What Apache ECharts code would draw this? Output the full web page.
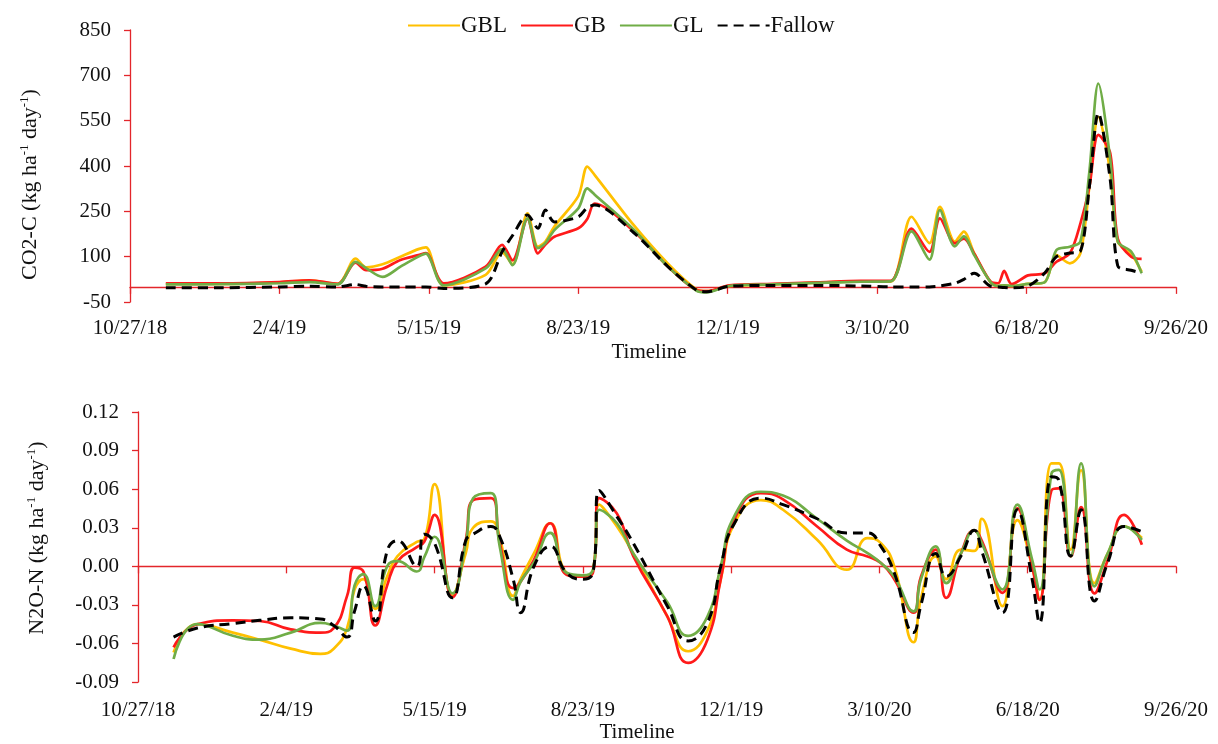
<!DOCTYPE html>
<html>
<head>
<meta charset="utf-8">
<script src="https://cdn.jsdelivr.net/npm/echarts@6/dist/echarts.min.js"></script>
<style>
  html, body { margin: 0; padding: 0; background: #fff; }
  #chart { width: 1218px; height: 744px; }
</style>
</head>
<body>
<div id="chart"></div>
<script>
// ---- CO2-C flux (kg ha-1 day-1) ----
const co2Dates = [
  '2018-11-20','2018-12-26','2019-02-04','2019-02-24','2019-03-15','2019-03-27','2019-04-03',
  '2019-04-14','2019-04-26','2019-05-08','2019-05-13','2019-05-25','2019-06-22','2019-07-03',
  '2019-07-10','2019-07-20','2019-07-27','2019-08-01','2019-08-07','2019-08-23','2019-08-29',
  '2019-09-03','2019-09-29','2019-10-22','2019-11-10','2019-11-17','2019-12-02','2019-12-31',
  '2020-01-30','2020-02-28','2020-03-19','2020-04-02','2020-04-14','2020-04-21','2020-05-01',
  '2020-05-07','2020-05-14','2020-05-25','2020-05-30','2020-06-03','2020-06-08','2020-06-19',
  '2020-06-30','2020-07-08','2020-07-17','2020-07-24','2020-07-30','2020-08-05','2020-08-13',
  '2020-08-18','2020-08-27','2020-09-03'
];
const co2GBL = [10,10,15,22,10,94,65,75,100,125,131,5,40,115,75,243,133,150,200,300,398,370,205,77,-8,-14,3,8,14,18,17,232,145,265,150,183,110,15,3,5,3,10,15,105,78,111,330,563,380,150,110,50];
const co2GB  = [12,12,16,22,10,80,55,60,89,105,112,12,67,139,88,225,111,140,166,194,225,276,185,67,-10,-14,5,10,15,20,20,193,116,227,144,160,110,17,12,53,9,38,45,83,111,209,330,503,442,160,100,93];
const co2GL  = [8,9,12,16,8,83,62,33,67,100,110,5,61,125,72,227,128,145,188,260,326,305,190,67,-12,-18,3,8,13,17,18,184,90,254,134,167,105,15,3,5,3,10,15,122,133,150,380,673,420,150,117,45];
const co2F   = [-3,-3,0,2,0,8,2,0,0,0,0,-5,10,116,170,238,194,254,215,232,262,271,180,67,-10,-16,2,5,5,3,0,0,0,3,12,25,45,2,0,-2,-3,3,45,100,112,118,330,575,354,70,55,45];

// ---- N2O-N flux (kg ha-1 day-1) ----
const n2oDates = [
  '2018-11-20','2018-12-06','2018-12-30','2019-01-17','2019-02-07','2019-02-27','2019-03-08',
  '2019-03-17','2019-03-22','2019-03-28','2019-04-05','2019-04-13','2019-04-20','2019-05-03',
  '2019-05-08','2019-05-15','2019-05-27','2019-06-05','2019-06-10','2019-06-22','2019-06-28',
  '2019-07-07','2019-07-12','2019-07-21','2019-08-01','2019-08-12','2019-08-23','2019-08-30',
  '2019-09-03','2019-09-15','2019-09-26','2019-10-19','2019-11-02','2019-11-15','2019-11-24',
  '2019-12-03','2019-12-21','2020-01-05','2020-01-28','2020-02-17','2020-03-02','2020-03-11',
  '2020-03-20','2020-04-02','2020-04-07','2020-04-17','2020-04-24','2020-05-04','2020-05-13',
  '2020-05-18','2020-06-01','2020-06-11','2020-06-21','2020-06-26','2020-07-04','2020-07-09',
  '2020-07-17','2020-07-24','2020-08-02','2020-08-11','2020-08-22','2020-09-03'
];
const n2oGBL = [-0.067,-0.045,-0.0515,-0.057,-0.064,-0.068,-0.064,-0.048,-0.018,-0.010,-0.033,-0.008,0.008,0.019,0.021,0.064,-0.023,0.010,0.030,0.035,0.022,-0.023,-0.010,0.010,0.0335,-0.005,-0.008,-0.002,0.048,0.031,0.010,-0.039,-0.066,-0.050,-0.010,0.033,0.0515,0.044,0.0206,-0.0026,0.022,0.018,0.000,-0.059,-0.025,0.0077,-0.010,0.013,0.012,0.037,-0.031,0.036,0.000,-0.026,0.080,0.080,0.013,0.0747,-0.013,0.010,0.031,0.022];
const n2oGB  = [-0.063,-0.045,-0.042,-0.0425,-0.049,-0.0515,-0.048,-0.023,-0.001,-0.004,-0.046,-0.015,0.004,0.015,0.019,0.040,-0.024,0.020,0.0515,0.053,0.018,-0.017,-0.012,0.005,0.0335,-0.0065,-0.008,-0.004,0.053,0.041,0.008,-0.039,-0.075,-0.057,-0.010,0.036,0.057,0.052,0.031,0.013,0.0077,0.0026,-0.010,-0.036,-0.008,0.013,-0.0245,0.010,0.028,0.020,-0.0206,0.045,0.000,-0.026,0.059,0.0606,0.0077,0.046,-0.021,0.005,0.040,0.0168];
const n2oGL  = [-0.072,-0.045,-0.054,-0.057,-0.0515,-0.044,-0.046,-0.050,-0.015,-0.006,-0.031,0.000,0.004,-0.004,0.007,0.023,-0.021,0.018,0.053,0.057,0.015,-0.026,-0.012,0.003,0.026,-0.005,-0.007,-0.002,0.044,0.0335,0.010,-0.028,-0.054,-0.039,0.000,0.0387,0.058,0.055,0.037,0.020,0.0103,0.0026,-0.008,-0.035,-0.010,0.0155,-0.013,0.010,0.028,0.018,-0.018,0.048,0.005,-0.018,0.072,0.075,0.0077,0.080,-0.0155,0.0103,0.031,0.0206];
const n2oF   = [-0.055,-0.048,-0.0445,-0.042,-0.040,-0.041,-0.046,-0.055,-0.035,-0.015,-0.0425,0.012,0.020,0.000,0.025,0.018,-0.0245,0.020,0.025,0.031,0.023,-0.010,-0.036,0.000,0.0155,-0.005,-0.010,-0.004,0.059,0.0387,0.018,-0.031,-0.058,-0.044,0.000,0.033,0.053,0.048,0.037,0.026,0.026,0.0155,-0.005,-0.0515,-0.030,0.010,-0.0077,0.008,0.028,0.012,-0.036,0.044,-0.010,-0.044,0.0696,0.067,0.008,0.044,-0.027,0.003,0.031,0.027];

const seriesNames = ['GBL', 'GB', 'GL', 'Fallow'];
const xTickStart = '2018-10-27';
const xTickEnd = '2020-09-26';

const FONT = "'Liberation Serif', 'Times New Roman', serif";
const AXIS_RED = '#e3262b';
const COLORS = { GBL: '#ffc000', GB: '#ff1a1a', GL: '#70ad47', Fallow: '#000000' };

// Spreadsheet-style day serial so ticks fall every 100 days from the start date
function toSerial(iso) {
  const [y, m, d] = iso.split('-').map(Number);
  return Date.UTC(y, m - 1, d) / 864e5 + 25569;
}
function serialLabel(v) {
  const dt = new Date((v - 25569) * 864e5);
  return (dt.getUTCMonth() + 1) + '/' + dt.getUTCDate() + '/' + String(dt.getUTCFullYear()).slice(2);
}
const xMin = toSerial(xTickStart);
const xMax = toSerial(xTickEnd);

function pairs(dates, vals) {
  return dates.map((d, i) => [toSerial(d), vals[i]]);
}

const chart = echarts.init(document.getElementById('chart'), null, { renderer: 'canvas' });

const grids = [
  { left: 130, top: 30, width: 1046, height: 272 },
  { left: 138, top: 412, width: 1038, height: 271 }
];

function labelAxis(gi, gap, margin, pad) {
  return {
    gridIndex: gi, type: 'value', position: 'bottom', min: xMin, max: xMax, interval: 100,
    axisLine: { show: false, onZero: false }, axisTick: { show: false }, splitLine: { show: false },
    axisLabel: { formatter: serialLabel, fontFamily: FONT, fontSize: 21, color: '#111', margin: margin,
                 showMinLabel: true, showMaxLabel: true },
    name: 'Timeline', nameLocation: 'middle', nameGap: gap,
    nameTextStyle: { fontFamily: FONT, fontSize: 21, color: '#111', padding: pad }
  };
}
function zeroAxis(gi) {
  return {
    gridIndex: gi, type: 'value', position: 'top', min: xMin, max: xMax, interval: 100,
    axisLine: { show: true, onZero: true, lineStyle: { color: AXIS_RED, width: 1.3 } },
    axisTick: { show: true, inside: true, length: 7, lineStyle: { color: AXIS_RED, width: 1.3 } },
    axisLabel: { show: false }, splitLine: { show: false }
  };
}
function yAxisCfg(gi, min, max, step, title, digits, gap, pad) {
  return {
    gridIndex: gi, type: 'value', min: min, max: max, interval: step,
    axisLine: { show: true, onZero: false, lineStyle: { color: AXIS_RED, width: 1.3 } },
    axisTick: { show: true, length: 6, lineStyle: { color: AXIS_RED, width: 1.3 } },
    splitLine: { show: false },
    axisLabel: {
      fontFamily: FONT, fontSize: 21, color: '#111', margin: 19,
      formatter: v => digits ? (Math.abs(v) < 1e-9 ? '0.00' : v.toFixed(digits)) : String(Math.round(v))
    },
    name: '{a|' + title + ' (kg ha}{s|-1}{a| day}{s|-1}{a|)}',
    nameLocation: 'middle', nameGap: gap,
    nameTextStyle: {
      padding: pad,
      rich: {
        a: { fontFamily: FONT, fontSize: 22, color: '#111', lineHeight: 24 },
        s: { fontFamily: FONT, fontSize: 13, color: '#111', verticalAlign: 'top', lineHeight: 24, padding: [0, 0, 10, 0] }
      }
    }
  };
}

function lineSeries(name, data, xi, yi, smooth) {
  const dashed = name === 'Fallow';
  return {
    name: name, type: 'line', xAxisIndex: xi, yAxisIndex: yi, data: data,
    smooth: smooth, symbol: 'none', showSymbol: false, z: dashed ? 5 : 3,
    lineStyle: { color: COLORS[name], width: dashed ? 3 : 2.7, type: dashed ? [10, 6] : 'solid' },
    itemStyle: { color: COLORS[name] }
  };
}

const co2Vals = [co2GBL, co2GB, co2GL, co2F];
const n2oVals = [n2oGBL, n2oGB, n2oGL, n2oF];
const series = [];
seriesNames.forEach((n, i) => series.push(lineSeries(n, pairs(co2Dates, co2Vals[i]), 0, 0, 0.3)));
seriesNames.forEach((n, i) => series.push(lineSeries(n, pairs(n2oDates, n2oVals[i]), 2, 1, 0.5)));

chart.setOption({
  backgroundColor: '#ffffff',
  animation: false,
  textStyle: { fontFamily: FONT },
  legend: {
    data: seriesNames, left: 402, top: 9, itemWidth: 52, itemHeight: 14, itemGap: 13,
    itemStyle: { opacity: 0 },
    textStyle: { fontFamily: FONT, fontSize: 23, color: '#111', padding: [0, 0, 0, -4] }
  },
  grid: grids,
  xAxis: [labelAxis(0, 40, 16, [0, 8, 0, 0]), zeroAxis(0), labelAxis(1, 37, 18, [0, 40, 0, 0]), zeroAxis(1)],
  yAxis: [
    yAxisCfg(0, -50, 850, 150, 'CO2-C', 0, 88, [0, 37, 0, 0]),
    yAxisCfg(1, -0.09, 0.12, 0.03, 'N2O-N', 2, 89, [0, 0, 0, 18])
  ],
  series: series
});
</script>
</body>
</html>
